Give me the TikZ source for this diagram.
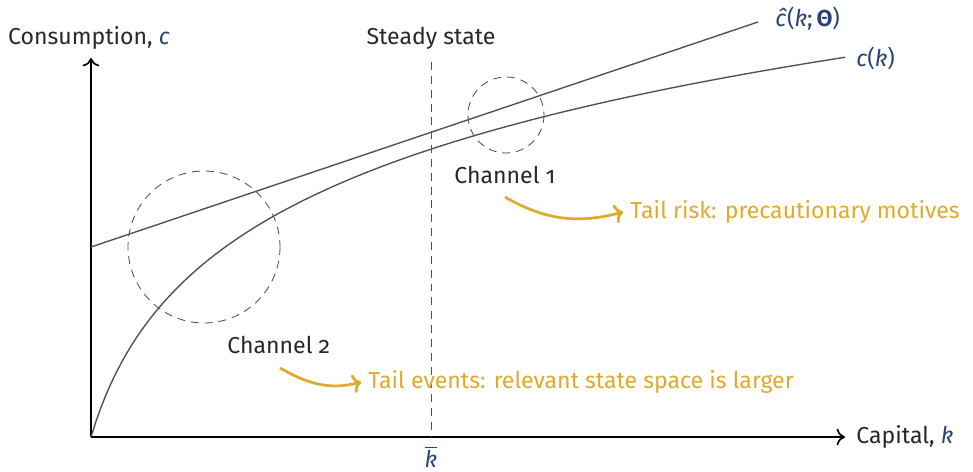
\documentclass[tikz,border=0pt]{standalone}
\usepackage{fontspec}
\setmainfont{Fira Sans}[Numbers=OldStyle]
\usetikzlibrary{arrows.meta}

\definecolor{navy}{RGB}{40,68,118}
\definecolor{gold}{RGB}{224,170,44}
\definecolor{linegray}{RGB}{80,80,80}
\definecolor{ink}{RGB}{40,40,40}

\tikzset{
  axis/.style={thick, -{To[length=4pt,width=8pt]}},
  curve/.style={line width=0.65pt, linegray},
  guide/.style={linegray, dash pattern=on 3.8pt off 2.8pt},
  channel/.style={line width=1.3pt, gold, -{To[length=4pt,width=9pt]}},
  gloss/.style={anchor=west, text=gold}
}
\newcommand{\varit}[1]{\textcolor{navy}{\textit{#1}}}

\begin{document}
\begin{tikzpicture}[x=0.01675cm, y=-0.01675cm, font=\fontsize{11}{13}\selectfont, text=ink]
    \useasboundingbox (0,0) rectangle (973,472);

        % Axes
        \coordinate (o) at (91,437);
        \coordinate (ytop) at (91,58);
        \coordinate (xend) at (845,437);
        \draw[axis] (o) -- (ytop);
        \draw[axis] (o) -- (xend);
        \node (ylab) at (89,38) {Consumption, \varit{c}};
        \node[anchor=west] (xlab) at (849,437) {Capital, \varit{k}};

        % Steady state
        \coordinate (sstop) at (431,62);
        \coordinate (kbar) at (431,437);
        \draw[guide] (sstop) -- (kbar);
        \node (sslab) at (431,38) {Steady state};
        \node (kbarlab) at (431,457) {\textcolor{navy}{$\overline{\mbox{\itshape k}}$}};

        % True policy c(k)
        \draw[curve, domain=0:754, samples=150]
            plot ({91+\x}, {437-124*ln(1+\x/37)});
        \node[anchor=west] (clab) at (849,58) {\textcolor{navy}{\textit{c}(\textit{k})}};

        % Approximated policy
        \coordinate (lin0) at (91,247);
        \coordinate (lin1) at (758,22);
        \draw[curve] (lin0) -- (lin1);
        \node[anchor=west] (chatlab) at (768,19)
            {\textcolor{navy}{\textit{\^c}(\textit{k};\,\textbf{Θ})}};

        % Regions where the two differ
        \draw[guide] (204,247) circle [radius=76];
        \draw[guide] (506,115) circle [radius=38];

        % Channels
        \node[anchor=west] (ch1) at (447,175) {Channel 1};
        \node[anchor=west] (ch2) at (220,345) {Channel 2};

        \coordinate (c1) at (505,197);
        \coordinate (c2) at (280,368);
        \node[gloss] (risk) at (623,212) {Tail risk: precautionary motives};
        \node[gloss] (events) at (361,382) {Tail events: relevant state space is larger};
        \draw[channel] (c1) to[out=-30, in=195] (risk.west);
        \draw[channel] (c2) to[out=-30, in=195] (events.west);

    \end{tikzpicture}
\end{document}
